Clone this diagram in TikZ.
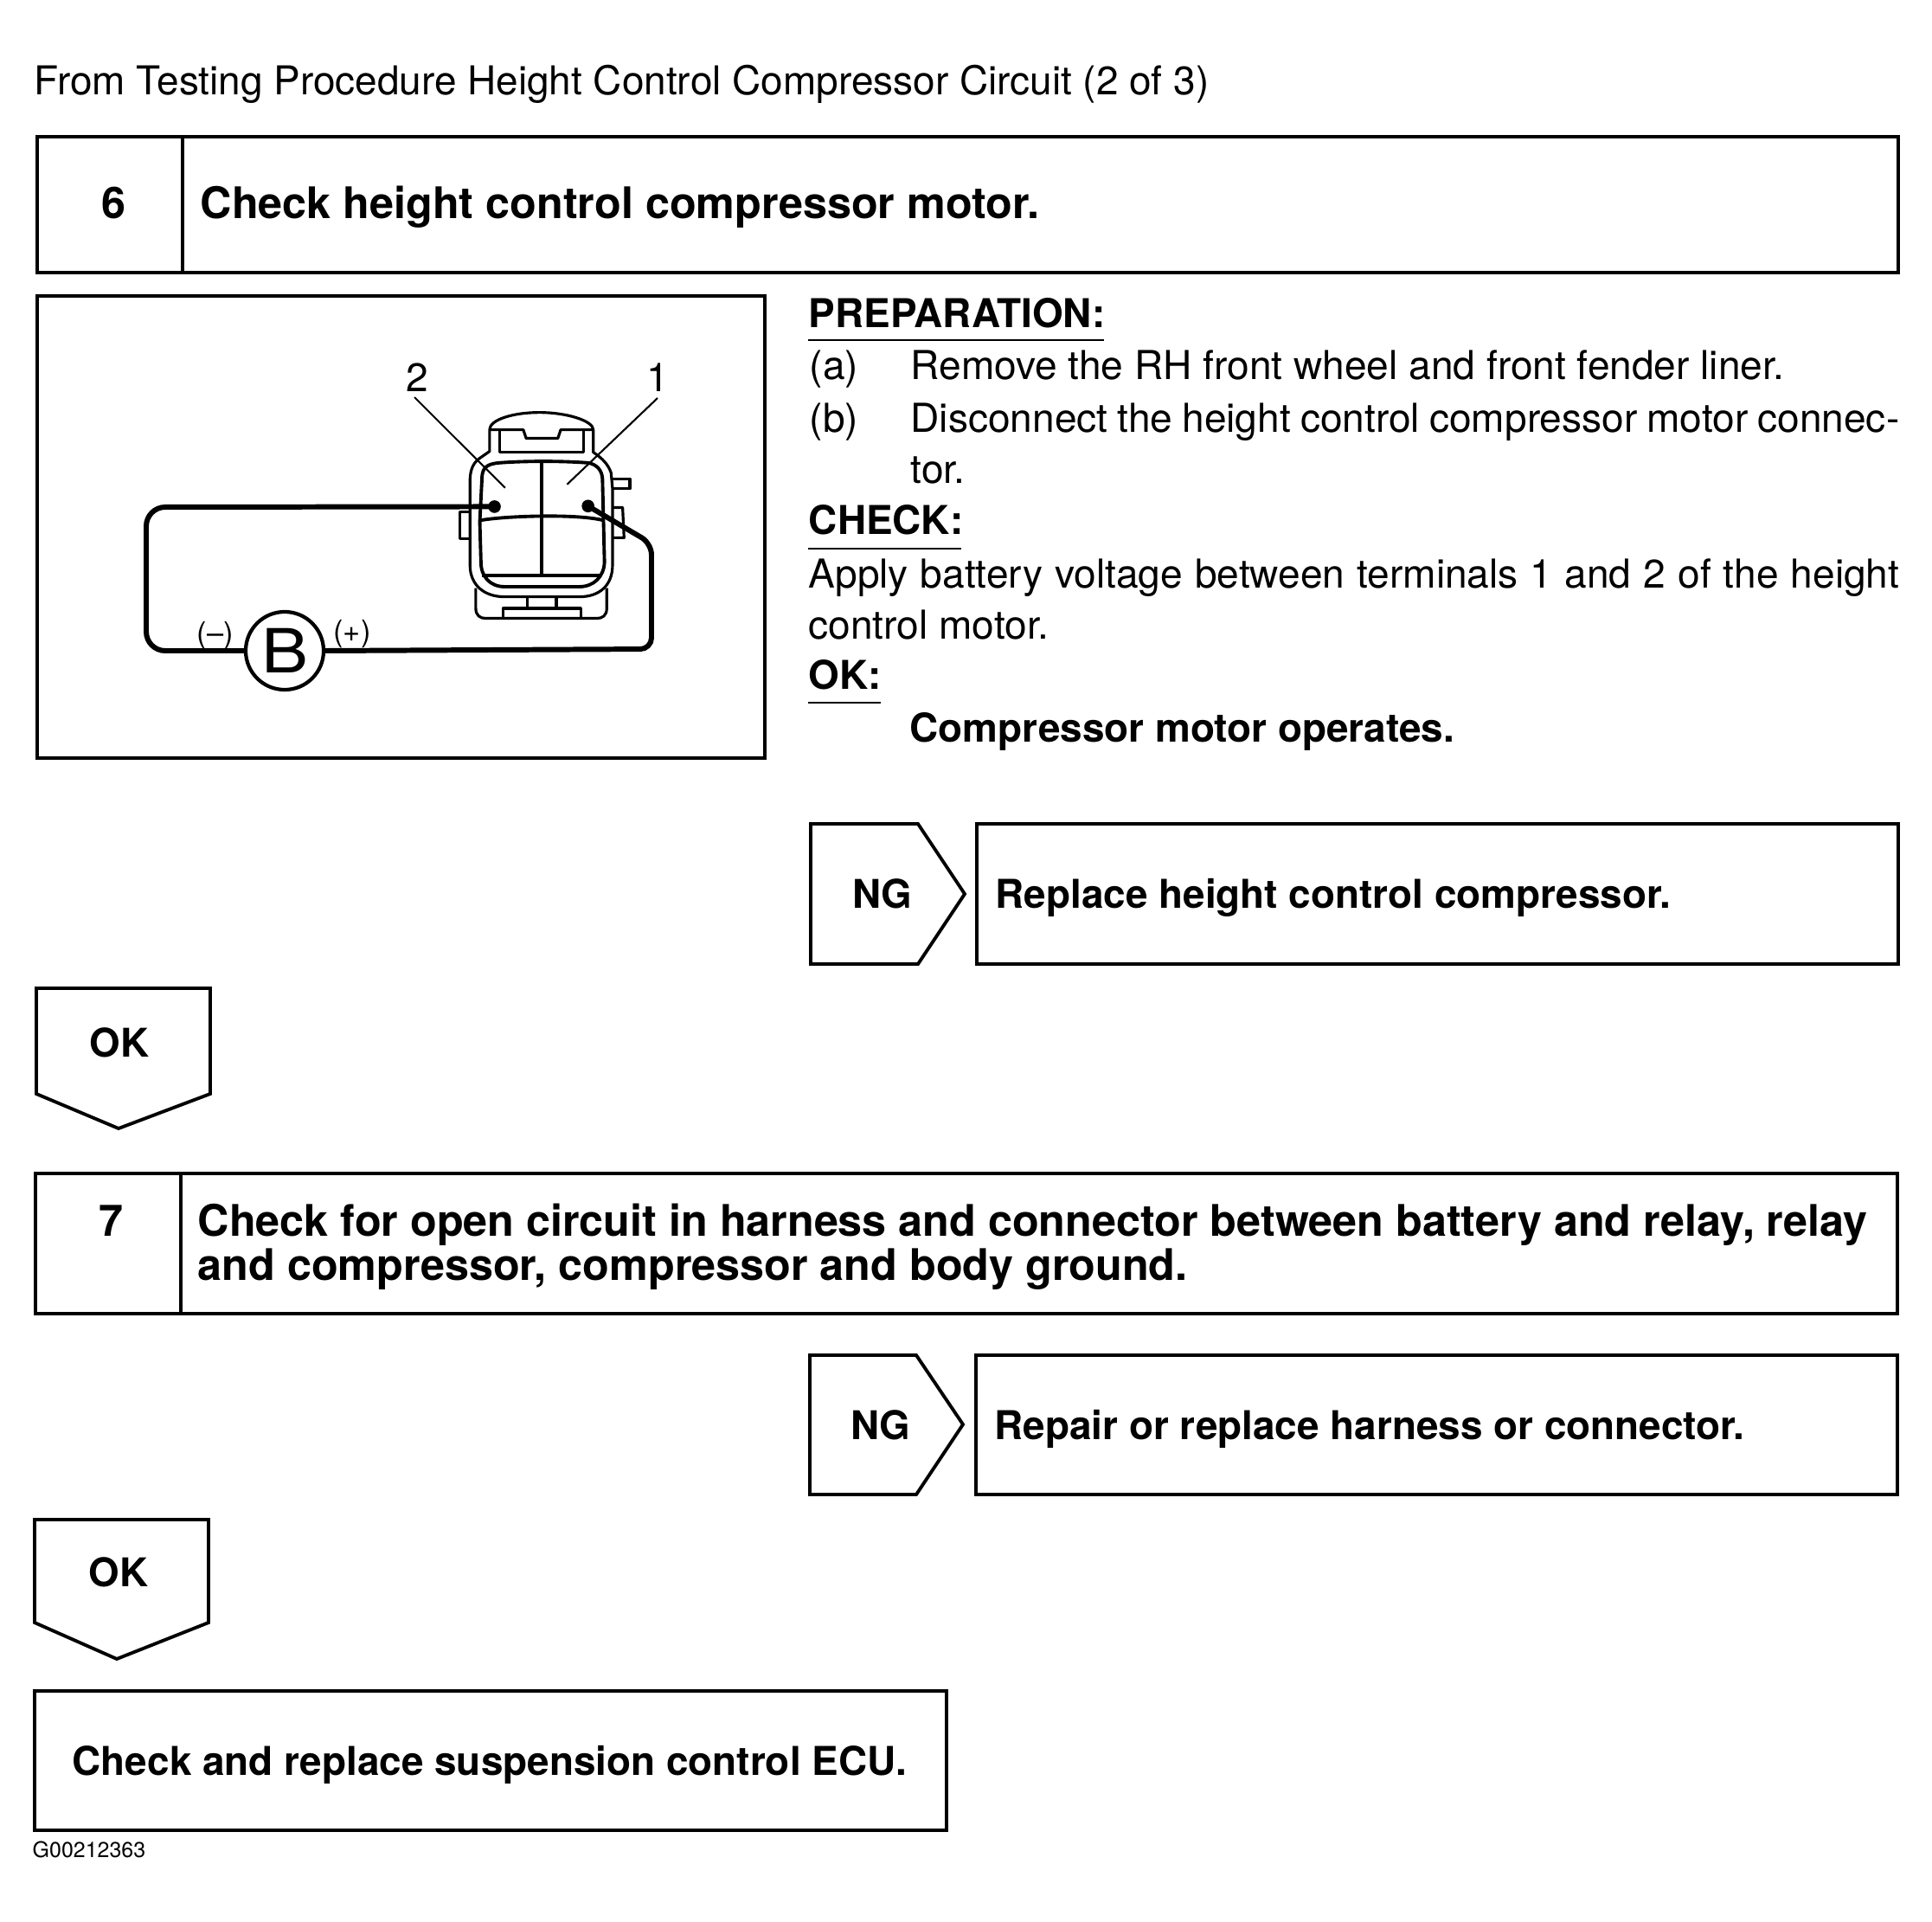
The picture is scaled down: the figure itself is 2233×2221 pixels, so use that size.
\documentclass[tikz,border=0pt]{standalone}
\usepackage{fontspec}
\setmainfont{TeX Gyre Heros}
\tikzset{
    frame/.style = {line width=1.1pt},
    thinline/.style = {line width=0.9pt, line join=round},
    thickline/.style = {line width=1.1pt, line join=round},
    leader/.style = {line width=0.6pt},
    wire/.style = {line width=1.7pt, rounded corners=0.22cm},
    body/.style = {anchor=base west, inner sep=0pt, font=\fontsize{13.1}{15}\selectfont},
    bold/.style = {anchor=base west, inner sep=0pt, font=\fontsize{13.05}{15}\selectfont\bfseries},
    head/.style = {anchor=base west, inner sep=0pt, font=\fontsize{14.3}{17}\selectfont\bfseries},
    tag/.style = {anchor=base, inner sep=0pt, font=\fontsize{13}{15}\selectfont\bfseries},
    polarity/.style = {inner sep=0pt, font=\fontsize{9.8}{11}\selectfont},
}
\begin{document}
\begin{tikzpicture}[x=0.01cm, y=-0.01cm]
    \useasboundingbox (0,0) rectangle (2233,2221);

    \node[body, font=\fontsize{13.06}{15}\selectfont] (title) at (39,109) {From Testing Procedure Height Control Compressor Circuit (2 of 3)};

    % step 6
    \draw[frame] (43,158) rectangle (2194,315);
    \draw[frame] (211,158) -- (211,315);
    \node[head, anchor=base] (num6) at (131,252) {6};
    \node[head] (head6) at (231,252) {Check height control compressor motor.};

    % picture
    \draw[frame] (43,342) rectangle (884,876);
    \node[body, anchor=base] (term2) at (482,452) {2};
    \node[body, anchor=base] (term1) at (760,452) {1};
    \node[draw, circle, line width=1.2pt, minimum size=0.9cm, inner sep=0pt, font=\fontsize{20}{20}\selectfont] (batt) at (329,752) {\scalebox{1.15}[1]{B}};
    \node[polarity] (minus) at (249,735) {(--)};
    \node[polarity] (plus) at (407,733) {(+)};

    \begin{scope}[shift={(480,450)}, x=0.003333cm, y=-0.003333cm]
        \coordinate (pin2) at (275,407);
        \coordinate (pin1) at (600,405);
        \coordinate (lead2) at (312,342);
        \coordinate (lead1) at (527,330);
        % housing
        \draw[thinline] (258,140) -- (258,215) -- (222,240) .. controls (195,260) and (190,290) .. (190,320)
            -- (190,610) .. controls (190,680) and (240,720) .. (310,720) -- (570,720)
            .. controls (640,720) and (685,680) .. (685,610) -- (685,345) -- (680,290)
            .. controls (670,260) and (650,240) .. (618,218) -- (618,140)
            .. controls (618,110) and (530,80) .. (430,80) .. controls (340,80) and (258,105) .. (258,140) -- cycle;
        \draw[thinline] (258,140) -- (375,140) -- (385,170) -- (495,170) -- (505,140) -- (618,140);
        \draw[thinline] (292,140) -- (292,218) -- (585,218) -- (585,140);
        % cavity
        \draw[thickline] (232,300) .. controls (235,265) and (260,258) .. (290,255)
            .. controls (380,248) and (510,248) .. (600,255) .. controls (630,260) and (648,280) .. (650,310)
            -- (657,600) .. controls (655,650) and (620,685) .. (570,685) -- (310,685)
            .. controls (260,685) and (228,650) .. (228,600) -- (224,460) -- cycle;
        \draw[thickline] (224,455) .. controls (300,440) and (560,430) .. (655,455);
        \draw[thickline] (438,250) -- (438,645);
        \draw[thickline] (232,645) -- (645,645);
        % tabs
        \draw[thinline] (680,310) -- (745,310) -- (745,345) -- (685,345);
        \draw[thinline] (688,410) -- (720,410) -- (725,515) -- (688,515);
        \draw[thinline] (187,425) -- (155,425) -- (155,518) -- (190,518);
        % foot
        \draw[thinline] (210,690) -- (210,760) .. controls (210,785) and (225,795) .. (245,795) -- (630,795)
            .. controls (650,795) and (665,785) .. (665,760) -- (665,690);
        \draw[thinline] (305,795) -- (305,760) -- (575,760) -- (575,795);
        \draw[thinline] (390,722) -- (390,757);
        \draw[thinline] (490,722) -- (490,757);
        \fill (pin2) circle (22);
        \fill (pin1) circle (22);
    \end{scope}

    \draw[leader] (479,459) -- (lead2);
    \draw[leader] (760,460) -- (lead1);
    \draw[wire] (batt.west) -- (169,752) -- (169,586) -- (pin2);
    \draw[wire, rounded corners=0.13cm] (batt.east) -- (753,750) -- (753,628) -- (pin1);

    % preparation text
    \node[bold] (prep) at (934,378) {PREPARATION:};
    \draw[leader] (934,393) -- (1276,393);
    \node[body] (itema) at (935,438) {(a)};
    \node[body] (texta) at (1052,438) {Remove the RH front wheel and front fender liner.};
    \node[body] (itemb) at (935,499) {(b)};
    \node[body] (textb) at (1052,499) {\makebox[11.42cm][s]{Disconnect the height control compressor motor connec-}};
    \node[body] (textc) at (1052,558) {tor.};
    \node[bold] (check) at (934,617) {CHECK:};
    \draw[leader] (934,634) -- (1111,634);
    \node[body] (apply) at (934,679) {\makebox[12.6cm][s]{Apply battery voltage between terminals 1 and 2 of the height}};
    \node[body] (motor) at (934,738) {control motor.};
    \node[bold] (okhead) at (934,796) {OK:};
    \draw[leader] (934,812) -- (1018,812);
    \node[bold] (operates) at (1051,857) {Compressor motor operates.};

    % result of step 6
    \draw[frame] (937,952) -- (1061,952) -- (1115,1033) -- (1061,1114) -- (937,1114) -- cycle;
    \node[tag] (ng6) at (1020,1049) {NG};
    \draw[frame] (1129,952) rectangle (2194,1114);
    \node[bold] (replace) at (1150,1049) {Replace height control compressor.};
    \draw[frame] (42,1142) -- (243,1142) -- (243,1264) -- (137,1304) -- (42,1264) -- cycle;
    \node[tag] (ok6) at (138,1221) {OK};

    % step 7
    \draw[frame] (41,1356) rectangle (2193,1518);
    \draw[frame] (209,1356) -- (209,1518);
    \node[head, anchor=base] (num7) at (128,1428) {7};
    \node[head] (head7a) at (228,1428) {Check for open circuit in harness and connector between battery and relay, relay};
    \node[head] (head7b) at (228,1479) {and compressor, compressor and body ground.};

    % result of step 7
    \draw[frame] (936,1566) -- (1059,1566) -- (1113,1646) -- (1059,1727) -- (936,1727) -- cycle;
    \node[tag] (ng7) at (1018,1663) {NG};
    \draw[frame] (1128,1566) rectangle (2193,1727);
    \node[bold] (repair) at (1149,1663) {Repair or replace harness or connector.};
    \draw[frame] (40,1756) -- (241,1756) -- (241,1875) -- (135,1917) -- (40,1875) -- cycle;
    \node[tag] (ok7) at (137,1833) {OK};

    % last box
    \draw[frame] (40,1954) rectangle (1094,2115);
    \node[bold] (ecu) at (83,2051) {Check and replace suspension control ECU.};
    \node[body, font=\fontsize{7.1}{9}\selectfont] (code) at (37,2146) {G00212363};
\end{tikzpicture}
\end{document}
